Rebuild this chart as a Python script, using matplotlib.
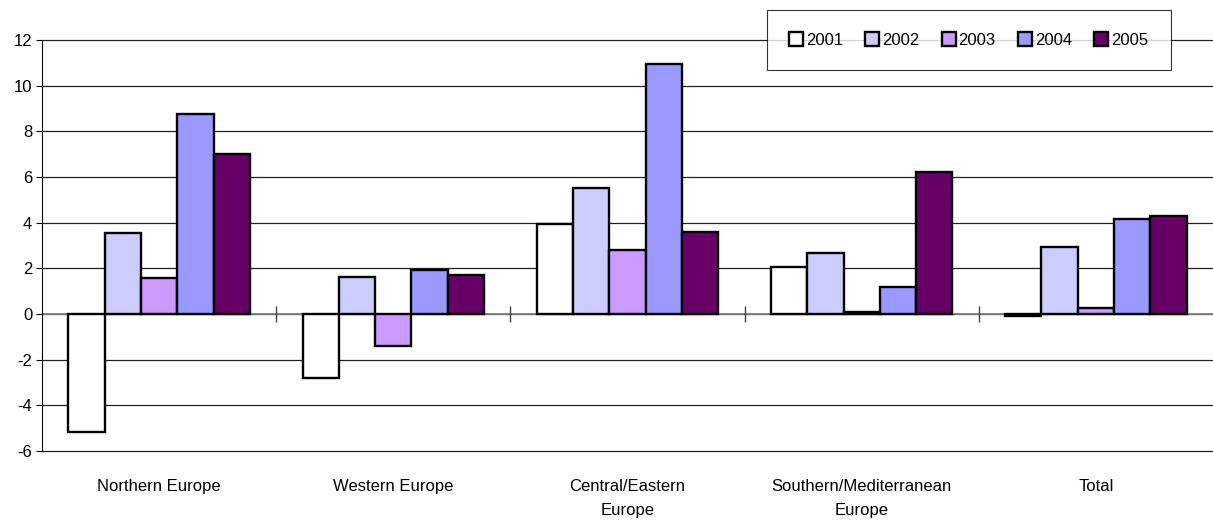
import numpy as np
import matplotlib.pyplot as plt

# data
regions = ['Northern Europe', 'Western Europe', 'Central/Eastern\nEurope',
           'Southern/Mediterranean\nEurope', 'Total']
years = ['2001', '2002', '2003', '2004', '2005']
v2001 = [-5.15, -2.8, 3.94, 2.06, -0.1]
v2002 = [3.55, 1.62, 5.52, 2.69, 2.93]
v2003 = [1.58, -1.4, 2.8, 0.07, 0.25]
v2004 = [8.76, 1.93, 10.95, 1.2, 4.16]
v2005 = [7.0, 1.71, 3.6, 6.2, 4.28]
series = [v2001, v2002, v2003, v2004, v2005]
colors = ['#FFFFFF', '#CCCCFF', '#CC99FF', '#9999FF', '#660066']

plt.rcParams['font.family'] = ['Liberation Sans', 'DejaVu Sans']
plt.rcParams['axes.unicode_minus'] = False

fig = plt.figure(figsize=(12.13, 5.23), dpi=100)
ax = fig.add_axes([0.0346, 0.1377, 0.9654, 0.7858])

x = np.arange(len(regions))
w = 0.155
for i, (vals, col, yr) in enumerate(zip(series, colors, years)):
    ax.bar(x + (i - 2) * w, vals, width=w, color=col, edgecolor='black',
           linewidth=1.7, label=yr, zorder=3)

ax.set_xlim(-0.5, len(regions) - 0.5)
ax.set_ylim(-6, 12)
ax.set_yticks(np.arange(-6, 13, 2))
ax.yaxis.grid(True, color='#222222', linewidth=0.9, zorder=0)
for gl in ax.get_ygridlines():
    gl.set_clip_on(False)
ax.set_axisbelow(True)

# zero line with category separator ticks
ax.axhline(0, color='#808080', linewidth=1.3, zorder=2)
ax.vlines(x[:-1] + 0.5, -0.35, 0.35, color='#404040', linewidth=1, zorder=2)

ax.set_xticks(x)
ax.set_xticklabels(regions, fontsize=12, linespacing=1.8)
ax.tick_params(axis='x', length=0, pad=20)
ax.tick_params(axis='y', labelsize=12, length=4, color='black', pad=3)

for s in ['top', 'right', 'bottom']:
    ax.spines[s].set_visible(False)
ax.spines['left'].set_color('black')

leg = fig.legend(loc='center', bbox_to_anchor=(0.7985, 0.9235), ncol=5,
                 fontsize=12, frameon=True, fancybox=False, edgecolor='black',
                 handlelength=0.85, handleheight=0.85, handletextpad=0.15,
                 columnspacing=1.35, borderpad=1.35, borderaxespad=0)
leg.get_frame().set_linewidth(0.8)

fig.savefig('out.png', dpi=100)
